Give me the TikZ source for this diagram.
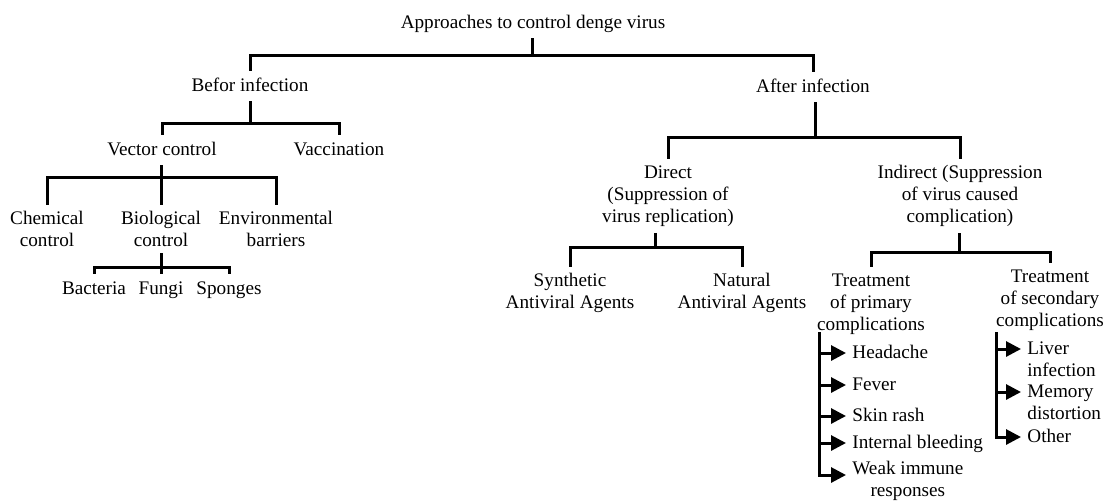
\documentclass[tikz,border=0pt]{standalone}
\usepackage{fontspec}
\setmainfont{Liberation Serif}
\usetikzlibrary{arrows.meta}

\begin{document}
\begin{tikzpicture}[x=0.5pt,y=-0.5pt,
      every node/.style={align=center,inner sep=3pt,font=\fontsize{9.6}{11}\selectfont},
      one/.style={text height=7pt,text depth=2pt},
      conn/.style={line width=1.5pt},
      arr/.style={line width=1.5pt,-{Triangle[length=7.5pt,width=7.5pt]}},
      item/.style={one,anchor=west}]
    \useasboundingbox (0,0) rectangle (1104,500);
    % top levels
    \node[one] (top) at (533,23) {Approaches to control denge virus};
    \node[one] (bef) at (250,86) {Befor infection};
    \node[one] (aft) at (813,87) {After infection};
    % before infection
    \node[one] (vec) at (162,150) {Vector control};
    \node[one] (vac) at (339,150) {Vaccination};
    \node (chem) at (47,229) {Chemical\\control};
    \node (bio) at (161,229) {Biological\\control};
    \node (env) at (276,229) {Environmental\\barriers};
    \node[one] (bact) at (94,289) {Bacteria};
    \node[one] (fung) at (161,289) {Fungi};
    \node[one] (spon) at (229,289) {Sponges};
    % after infection
    \node (dir) at (668,196) {Direct\\(Suppression of\\virus replication)};
    \node (ind) at (960,196) {Indirect (Suppression\\of virus caused\\complication)};
    \node (syn) at (570,293) {Synthetic\\Antiviral Agents};
    \node (nat) at (742,293) {Natural\\Antiviral Agents};
    \node (tpri) at (871,304) {Treatment\\of primary\\complications};
    \node (tsec) at (1050,300) {Treatment\\of secondary\\complications};
    \node[item] (head) at (846,353) {Headache};
    \node[item] (fev) at (846,385) {Fever};
    \node[item] (skin) at (846,416) {Skin rash};
    \node[item] (intb) at (846,443) {Internal bleeding};
    \node[anchor=west] (weak) at (846,481) {Weak immune\\responses};
    \node[anchor=west,align=left] (liv) at (1021,359) {Liver\\infection};
    \node[anchor=west,align=left] (mem) at (1021,402) {Memory\\distortion};
    \node[item] (oth) at (1021,437) {Other};
    % bar junctions
    \coordinate (j0) at (532,55);
    \coordinate (j1) at (250,123);
    \coordinate (j2) at (161,177);
    \coordinate (j3) at (161,267);
    \coordinate (j4) at (815,137);
    \coordinate (j5) at (655,247);
    \coordinate (j6) at (959,252);
    \coordinate (p0) at (819,332);
    \coordinate (s0) at (996,332);
    % tree connectors
    \draw[conn] (j0 |- top.south) -- (j0) -| (bef.north);
    \draw[conn] (j0) -| (aft.north);
    \draw[conn] (j1 |- bef.south) -- (j1) -| (vec.north);
    \draw[conn] (j1) -| (vac.north);
    \draw[conn] (j2 |- vec.south) -- (j2) -| (chem.north);
    \draw[conn] (j2) -- (bio.north);
    \draw[conn] (j2) -| (env.north);
    \draw[conn] (j3 |- bio.south) -- (j3) -| (bact.north);
    \draw[conn] (j3) -- (fung.north);
    \draw[conn] (j3) -| (spon.north);
    \draw[conn] (j4 |- aft.south) -- (j4) -| (dir.north);
    \draw[conn] (j4) -| (ind.north);
    \draw[conn] (j5 |- dir.south) -- (j5) -| (syn.north);
    \draw[conn] (j5) -| (nat.north);
    \draw[conn] (j6 |- ind.south) -- (j6) -| (tpri.north);
    \draw[conn] (j6) -| (tsec.north);
    % complication lists
    \draw[arr] (p0) |- ([yshift=3pt]weak.west);
    \foreach \n in {head,fev,skin,intb}
      \draw[arr] (p0 |- \n.west) -- (\n.west);
    \draw[arr] (s0) |- (oth.west);
    \foreach \n in {liv,mem}
      \draw[arr] ([yshift=5pt]\n.west -| s0) -- ([yshift=5pt]\n.west);
\end{tikzpicture}
\end{document}
